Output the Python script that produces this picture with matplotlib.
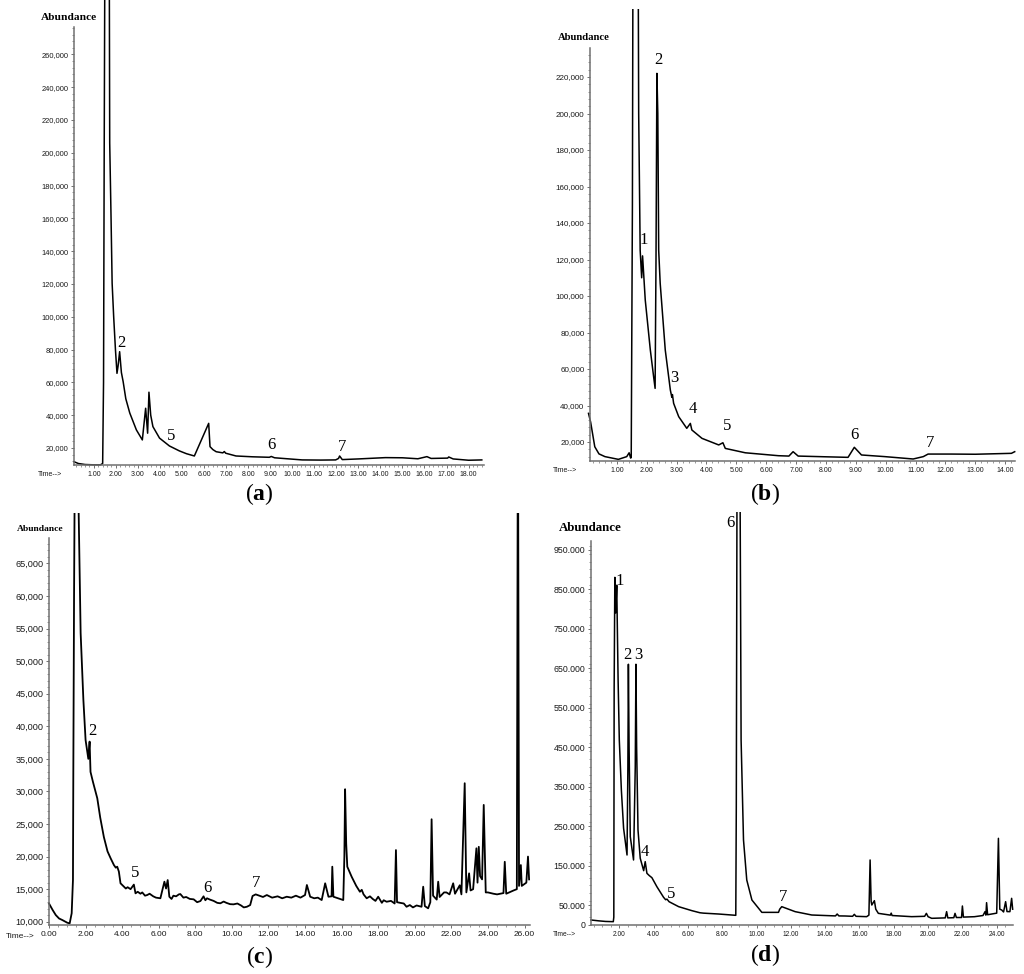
import matplotlib
matplotlib.use("Agg")
import matplotlib.pyplot as plt
from matplotlib.patches import Rectangle
from matplotlib.ticker import MultipleLocator, FixedLocator, FuncFormatter

plt.rcParams['mathtext.fontset'] = 'custom'
plt.rcParams['mathtext.rm'] = 'Liberation Serif'
plt.rcParams['mathtext.bf'] = 'Liberation Serif:bold'

# ---- data (time in min, abundance) ----
a_time = [0.10, 0.30, 0.60, 1.00, 1.30, 1.40, 1.44, 1.47, 1.50, 1.70, 1.72, 1.78,
          1.83, 1.90, 1.98, 2.05, 2.10, 2.17, 2.25, 2.33, 2.45, 2.63, 2.93, 3.20,
          3.35, 3.44, 3.50, 3.58, 3.68, 3.98, 4.43, 4.88, 5.20, 5.56, 6.21, 6.27,
          6.40, 6.55, 6.85, 6.92, 6.98, 7.45, 8.20, 8.96, 9.05, 9.20, 10.45, 11.30,
          11.97, 12.10, 12.15, 12.27, 13.00, 14.23, 15.00, 15.70, 16.11, 16.30,
          17.05, 17.10, 17.30, 18.00, 18.60]
a_abund = [11600, 10500, 9900, 9700, 9700, 10500, 60000, 200000, 320000, 320000,
           206000, 160900, 120400, 100000, 80000, 65500, 70000, 78700, 66000, 60400,
           50000, 41300, 31000, 24900, 44200, 29000, 54000, 40000, 33000, 26000,
           21200, 18200, 16500, 15100, 35000, 20800, 19000, 17700, 17000, 17800,
           16800, 15100, 14600, 14300, 14800, 14000, 12700, 12600, 12700, 13600,
           15100, 12900, 13300, 14100, 14000, 13400, 14700, 13600, 13800, 14500,
           13300, 12500, 12700]
a_peaks = ['2', '5', '6', '7']
a_peak_t = [2.26, 4.49, 9.04, 12.25]
a_peak_y = [84000, 27300, 21800, 20600]

b_time = [0.05, 0.12, 0.26, 0.40, 0.60, 1.05, 1.33, 1.41, 1.46, 1.48, 1.52, 1.54,
          1.71, 1.73, 1.78, 1.83, 1.86, 1.95, 2.12, 2.23, 2.28, 2.31, 2.34, 2.37,
          2.40, 2.45, 2.62, 2.79, 2.84, 2.86, 2.90, 3.07, 3.34, 3.46, 3.51, 3.85,
          4.41, 4.55, 4.63, 5.30, 6.41, 6.76, 6.90, 7.07, 8.00, 8.74, 8.95, 9.19,
          9.97, 10.92, 11.26, 11.42, 12.20, 13.00, 14.21, 14.32]
b_abund = [35700, 31000, 17400, 13500, 12000, 10500, 12000, 14100, 11200, 11500,
           150000, 300000, 300000, 200000, 125000, 110000, 122000, 97800, 70400,
           55800, 49400, 120000, 222000, 200000, 125000, 107000, 70400, 48500,
           44500, 46000, 41200, 33900, 27500, 30200, 26600, 22000, 18400, 19600,
           16500, 14100, 12500, 12300, 14700, 12300, 11900, 11600, 17100, 12900,
           12000, 10700, 12000, 13400, 13400, 13300, 13800, 14700]
b_peaks = ['1', '2', '3', '4', '5', '6', '7']
b_peak_t = [1.89, 2.40, 2.92, 3.54, 4.68, 8.95, 11.48]
b_peak_y = [130700, 229300, 55200, 37900, 28800, 23800, 19600]

c_time = [0.00, 0.20, 0.37, 0.55, 0.73, 1.00, 1.13, 1.24, 1.31, 1.33,
          1.37, 1.41, 1.58, 1.73, 1.88, 2.00, 2.15, 2.22, 2.27, 2.40,
          2.64, 2.80, 3.00, 3.20, 3.37, 3.55, 3.65, 3.73, 3.82, 3.91,
          4.09, 4.20, 4.30, 4.46, 4.64, 4.73, 4.85, 5.00, 5.10, 5.25,
          5.37, 5.50, 5.70, 5.85, 6.09, 6.31, 6.40, 6.49, 6.58, 6.70,
          6.80, 6.95, 7.10, 7.18, 7.35, 7.50, 7.70, 7.91, 8.10, 8.28,
          8.45, 8.55, 8.64, 8.80, 9.00, 9.20, 9.37, 9.55, 9.70, 9.90,
          10.09, 10.30, 10.50, 10.65, 10.82, 11.00, 11.13, 11.30, 11.50, 11.70,
          11.91, 12.20, 12.50, 12.75, 13.00, 13.25, 13.50, 13.75, 14.00, 14.10,
          14.28, 14.50, 14.70, 14.91, 15.10, 15.28, 15.45, 15.49, 15.55, 15.80,
          16.09, 16.15, 16.19, 16.25, 16.31, 16.55, 16.80, 17.00, 17.10, 17.20,
          17.37, 17.55, 17.70, 17.85, 18.00, 18.20, 18.30, 18.46, 18.70, 18.90,
          18.97, 19.03, 19.20, 19.40, 19.55, 19.73, 19.90, 20.10, 20.37, 20.46,
          20.55, 20.73, 20.85, 20.92, 21.00, 21.20, 21.28, 21.36, 21.60, 21.73,
          21.90, 22.10, 22.20, 22.46, 22.55, 22.73, 22.82, 22.97, 23.05, 23.19,
          23.37, 23.43, 23.50, 23.57, 23.68, 23.77, 23.88, 24.00, 24.30, 24.50,
          24.85, 24.92, 25.00, 25.40, 25.58, 25.63, 25.65, 25.70, 25.80, 25.85,
          26.10, 26.19, 26.25]
c_abund = [12800, 11800, 11030, 10500, 10260, 9850, 9750, 11300, 16400, 33000,
           60000, 80000, 80000, 54300, 44050, 37900, 35000, 37650, 33000, 31500,
           28950, 26000, 23000, 20800, 19740, 18700, 18300, 18450, 17700, 15900,
           15400, 15100, 15300, 15000, 15700, 14360, 14600, 14300, 14500, 14000,
           14100, 14300, 13900, 13700, 13600, 16150, 15100, 16400, 13840, 13500,
           14000, 13900, 14200, 14250, 13700, 13800, 13500, 13440, 13000, 13180,
           13900, 13300, 13600, 13400, 13200, 12900, 12830, 13100, 12900, 12700,
           12670, 12800, 12500, 12200, 12300, 12560, 13950, 14200, 14000, 13800,
           14100, 13700, 13900, 13600, 13840, 13700, 14000, 13700, 14100, 15640,
           13840, 13600, 13700, 13330, 15900, 13840, 13900, 18450, 13840, 13600,
           13330, 20000, 30340, 22000, 18450, 16900, 15500, 14600, 14900, 14200,
           13600, 13900, 13500, 13200, 13840, 12900, 13300, 13070, 13200, 12800,
           21000, 13000, 12900, 12800, 12300, 12560, 12200, 12500, 12300, 15380,
           12400, 12060, 13000, 25730, 14000, 13400, 16150, 13800, 14500, 14500,
           14200, 15900, 14300, 15600, 14200, 31260, 14500, 17430, 14800, 15000,
           21270, 16000, 21500, 17000, 16500, 27930, 14500, 14500, 14300, 14200,
           14400, 19200, 14300, 14800, 15000, 80000, 80000, 15500, 18700, 15500,
           16000, 20000, 16500]
c_peaks = ['2', '5', '6', '7']
c_peak_t = [2.37, 4.69, 8.64, 11.33]
c_peak_y = [39300, 17500, 15130, 16000]

d_time = [0.35, 0.80, 1.20, 1.65, 1.68, 1.70, 1.74, 1.79, 1.85, 1.93, 2.00, 2.12,
          2.25, 2.45, 2.50, 2.53, 2.57, 2.64, 2.83, 2.93, 2.97, 3.01, 3.09, 3.22,
          3.42, 3.51, 3.61, 3.75, 3.90, 4.19, 4.58, 4.70, 4.78, 4.90, 5.46, 6.23,
          6.70, 6.91, 7.79, 8.79, 8.82, 8.86, 9.04, 9.07, 9.10, 9.24, 9.43, 9.73,
          10.31, 11.28, 11.35, 11.47, 12.25, 13.22, 14.60, 14.70, 14.80, 15.16,
          15.60, 15.70, 15.80, 16.42, 16.55, 16.62, 16.68, 16.72, 16.87, 16.95,
          17.10, 17.80, 17.85, 17.90, 19.04, 19.80, 19.90, 20.00, 20.21, 21.00,
          21.08, 21.15, 21.50, 21.57, 21.65, 21.95, 22.00, 22.06, 22.70, 23.20,
          23.32, 23.37, 23.41, 23.47, 24.00, 24.10, 24.18, 24.29, 24.40, 24.52,
          24.60, 24.77, 24.87, 24.93]
d_abund = [12700, 10500, 9000, 8400, 20000, 600000, 880000, 790000, 860000, 620000,
           468000, 341800, 244800, 177200, 400000, 660000, 450000, 223500, 164600,
           400000, 660000, 450000, 240500, 168900, 137500, 160300, 130800, 125000,
           119800, 97000, 70100, 64000, 65500, 59000, 46400, 36300, 31000, 30000,
           27800, 24500, 300000, 1100000, 1100000, 800000, 468000, 215200, 113900,
           63300, 32000, 32000, 40000, 46400, 33800, 25300, 23000, 27800, 23000,
           22800, 22000, 27000, 22000, 21100, 25000, 164600, 60000, 50600, 61600,
           40000, 29500, 25000, 30000, 24000, 21100, 22000, 29500, 21000, 16900,
           18000, 33800, 18000, 18500, 29500, 19000, 19000, 48100, 20000, 21000,
           24000, 33800, 25000, 56500, 26000, 30000, 219400, 40000, 38000, 33000,
           59000, 34000, 33800, 67500, 40000]
d_peaks = ['1', '2', '3', '4', '5', '6', '7']
d_peak_t = [2.00, 2.49, 3.09, 3.51, 5.01, 8.46, 11.57]
d_peak_y = [871000, 682800, 682800, 185600, 78500, 1017000, 70100]

W, H = 1024, 974
fig = plt.figure(figsize=(W / 100, H / 100), dpi=100)


def fx(x):
    return x / W


def fy(y):
    return 1 - y / H


def comma(v, pos):
    return f"{int(round(v)):,}"


def dotted(v, pos):
    return f"{int(round(v)):,}".replace(',', '.')


def draw(rect, clip_top, lw, t, y, xlim, ylim, xmaj, xmin, ymaj, ymin, yfmt, xts, yts,
         peaks, pt, py, abund_xy, abund_fs, time_xy, letter, letter_xy):
    l, top, r, b = rect
    ax = fig.add_axes([fx(l), fy(b), (r - l) / W, (b - top) / H])
    line, = ax.plot(t, y, color='black', lw=lw)
    # the scanned traces are cut off at the top of each sub-picture
    clip = Rectangle((fx(l - 10), fy(b + 10)), (r - l + 20) / W, (b + 10 - clip_top) / H,
                     transform=fig.transFigure)
    line.set_clip_path(clip)
    ax.set_xlim(*xlim)
    ax.set_ylim(*ylim)
    for s in ['top', 'right']:
        ax.spines[s].set_visible(False)
    for s in ['left', 'bottom']:
        ax.spines[s].set_color('#707070')
        ax.spines[s].set_linewidth(1.1)
    ax.xaxis.set_major_locator(xmaj)
    ax.xaxis.set_minor_locator(MultipleLocator(xmin))
    ax.yaxis.set_major_locator(ymaj)
    ax.yaxis.set_minor_locator(MultipleLocator(ymin))
    ax.xaxis.set_major_formatter(FuncFormatter(lambda v, p: f"{v:.2f}"))
    ax.yaxis.set_major_formatter(FuncFormatter(yfmt))
    ax.tick_params(which='major', length=2.5, width=0.7, color='#707070', pad=1.5)
    ax.tick_params(which='minor', length=1.4, width=0.5, color='#707070')
    ax.tick_params(axis='x', labelsize=xts, labelcolor='#1a1a1a')
    ax.tick_params(axis='y', labelsize=yts, labelcolor='#1a1a1a')
    for lab in ax.get_xticklabels() + ax.get_yticklabels():
        lab.set_family('Liberation Sans')
    for s, tx, ty in zip(peaks, pt, py):
        ax.text(tx, ty, s, fontsize=12, family='Liberation Serif',
                ha='center', va='center', clip_on=False)
    fig.text(fx(abund_xy[0]), fy(abund_xy[1]), 'Abundance', fontsize=abund_fs,
             family='Liberation Serif', weight='bold', ha='center', va='center')
    fig.text(fx(time_xy[0]), fy(time_xy[1]), 'Time-->', fontsize=xts,
             family='Liberation Sans', color='#1a1a1a', ha='center', va='center')
    fig.text(fx(letter_xy[0]), fy(letter_xy[1]), '(' + r'$\mathbf{' + letter + '}$' + ')',
             fontsize=17, family='Liberation Serif', ha='center', va='center')
    return ax


draw((74, 27, 484, 465), 0, 1.1, a_time, a_abund, (0.1, 18.7), (9600, 276700),
     MultipleLocator(1), 0.2, MultipleLocator(20000), 4000, comma, 5.0, 5.4,
     a_peaks, a_peak_t, a_peak_y, (69, 18), 8.2, (50, 474), 'a', (259, 494))

draw((590, 48, 1015, 461), 9, 1.1, b_time, b_abund, (0.1, 14.33), (9600, 235900),
     MultipleLocator(1), 0.2, MultipleLocator(20000), 4000, comma, 5.0, 5.8,
     b_peaks, b_peak_t, b_peak_y, (584, 37), 7.7, (565, 470), 'b', (765, 494))

draw((49, 538, 530, 925), 513, 1.3, c_time, c_abund, (0.0, 26.3), (9500, 68900),
     MultipleLocator(2), 0.5, MultipleLocator(5000), 1000, comma, 6.0, 6.6,
     c_peaks, c_peak_t, c_peak_y, (40, 529), 6.8, (20, 937), 'c', (260, 957))

d_yticks = [0] + list(range(50000, 1000000, 100000))
draw((591, 541, 1013, 925), 512, 1.1, d_time, d_abund, (0.35, 24.95), (0, 972000),
     MultipleLocator(2), 0.5, FixedLocator(d_yticks), 20000, dotted, 4.8, 6.3,
     d_peaks, d_peak_t, d_peak_y, (590, 528), 9.3, (564, 934), 'd', (765, 955))

fig.savefig('out.png', dpi=100)
